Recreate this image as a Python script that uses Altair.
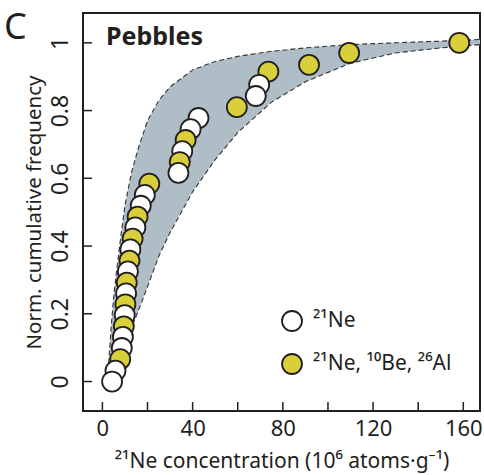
import altair as alt
import pandas as pd

# ---- data ----
pt_x = [4.3, 5.8, 7.9, 8.6, 9.1, 9.5, 9.9, 10.2, 10.5, 10.8, 11.3, 12.0, 12.4, 13.4, 14.6, 15.6,
        17.0, 18.8, 20.8, 33.7, 34.3, 35.4, 36.9, 39.1, 42.6, 59.6, 68.0, 69.5, 73.6, 91.6, 109.4, 158.2]
pt_y = [0.0, 0.032, 0.066, 0.099, 0.132, 0.163, 0.196, 0.228, 0.26, 0.292, 0.325, 0.357, 0.39, 0.422,
        0.455, 0.487, 0.519, 0.551, 0.584, 0.616, 0.648, 0.68, 0.713, 0.745, 0.778, 0.81, 0.843, 0.876,
        0.915, 0.935, 0.97, 1.0]
pt_type = ["W", "W", "Y", "W", "W", "Y", "W", "Y", "W", "Y", "W", "Y", "W", "Y", "W", "Y",
           "W", "W", "Y", "W", "Y", "W", "Y", "W", "W", "Y", "W", "W", "Y", "Y", "Y", "Y"]

env_x = [2.5, 4, 5, 6, 8, 10, 13, 16, 20, 25, 30, 40, 50, 60, 75, 90, 110, 130, 150, 168]
env_upper = [0.03, 0.17, 0.25, 0.31, 0.42, 0.52, 0.62, 0.69, 0.77, 0.83, 0.87, 0.92, 0.945, 0.96,
             0.975, 0.985, 0.995, 1.0, 1.005, 1.01]
env_lower = [0.02, 0.03, 0.04, 0.055, 0.08, 0.11, 0.16, 0.21, 0.28, 0.37, 0.44, 0.56, 0.655, 0.735,
             0.825, 0.885, 0.94, 0.97, 0.985, 0.995]

x_ticks = [0, 20, 40, 60, 80, 100, 120, 140, 160]
x_labels = [0, 40, 80, 120, 160]
y_ticks = [0, 0.2, 0.4, 0.6, 0.8, 1]

LAB_W = "²¹Ne"
LAB_Y = "²¹Ne, ¹⁰Be, ²⁶Al"

W, H = 397, 398
FONT = "Noto Sans"
INK = "#231f20"
YELLOW = "#d8cf3b"
SHADE = "#aebdc6"

pts = pd.DataFrame({"x": pt_x, "y": pt_y,
                    "kind": [LAB_W if t == "W" else LAB_Y for t in pt_type]})
pts = pts.iloc[::-1].reset_index(drop=True)  # lower points drawn on top
env = pd.DataFrame({"x": env_x, "lo": env_lower, "hi": env_upper})

xs = alt.Scale(domain=[-8.6, 167.4], nice=False, zero=False)
ys = alt.Scale(domain=[-0.087, 1.088], nice=False, zero=False)

xaxis = alt.Axis(values=x_labels, title="²¹Ne concentration (10⁶ atoms·g⁻¹)", ticks=False,
                 domain=False, grid=False, labelFontSize=22, labelPadding=7, titlePadding=11,
                 titleFontSize=21)
yaxis = alt.Axis(values=y_ticks, title="Norm. cumulative frequency", ticks=False, domain=False,
                 grid=False, labelAngle=270, labelAlign="center", labelBaseline="bottom",
                 labelFontSize=23, labelPadding=11, titlePadding=5, titleFontSize=20.5,
                 labelExpr="datum.value == 0 ? '0' : datum.value == 1 ? '1' : format(datum.value, '.1f')")

band = alt.Chart(env).mark_area(color=SHADE, clip=True).encode(
    x=alt.X("x:Q", scale=xs, axis=xaxis),
    y=alt.Y("lo:Q", scale=ys, axis=yaxis),
    y2="hi:Q",
)
dash = dict(color="#333333", strokeWidth=1.1, strokeDash=[5, 3], clip=True)
line_hi = alt.Chart(env).mark_line(**dash).encode(x=alt.X("x:Q", scale=xs), y=alt.Y("hi:Q", scale=ys))
line_lo = alt.Chart(env).mark_line(**dash).encode(x=alt.X("x:Q", scale=xs), y=alt.Y("lo:Q", scale=ys))

points = alt.Chart(pts).mark_point(filled=True, size=400, stroke=INK, strokeWidth=1.8, opacity=1).encode(
    x=alt.X("x:Q", scale=xs),
    y=alt.Y("y:Q", scale=ys),
    fill=alt.Fill("kind:N", scale=alt.Scale(domain=[LAB_W, LAB_Y], range=["white", YELLOW]),
                  legend=alt.Legend(title=None, orient="none", legendX=198, legendY=297,
                                    symbolSize=400, symbolStrokeColor=INK, symbolStrokeWidth=1.8,
                                    labelFontSize=21, labelFont=FONT, labelColor=INK,
                                    rowPadding=15, labelOffset=10, padding=0, symbolType="circle")),
)

xt = alt.Chart(pd.DataFrame({"v": x_ticks})).mark_rule(color=INK, strokeWidth=1.5).encode(
    x=alt.X("v:Q", scale=xs), y=alt.value(H), y2=alt.value(H - 9))
yt = alt.Chart(pd.DataFrame({"v": y_ticks})).mark_rule(color=INK, strokeWidth=1.5).encode(
    y=alt.Y("v:Q", scale=ys), x=alt.value(0), x2=alt.value(9))

title_txt = alt.Chart(pd.DataFrame({"t": ["Pebbles"]})).mark_text(
    font=FONT, fontSize=25, fontWeight="bold", color=INK, align="left", baseline="middle"
).encode(text="t:N", x=alt.value(23), y=alt.value(24))
panel_txt = alt.Chart(pd.DataFrame({"t": ["C"]})).mark_text(
    font=FONT, fontSize=36, color=INK, align="left", baseline="alphabetic"
).encode(text="t:N", x=alt.value(-79), y=alt.value(25.5))

chart = alt.layer(band, line_hi, line_lo, xt, yt, points, title_txt, panel_txt).properties(
    width=W, height=H, autosize="none",
    padding={"left": 83, "top": 13, "right": 4, "bottom": 64},
).configure_view(stroke=INK, strokeWidth=2).configure_axis(
    labelFont=FONT, titleFont=FONT,
    labelColor=INK, titleColor=INK, titleFontWeight="normal",
)

chart.save("out.html", embed_options={"renderer": "svg", "actions": False})
